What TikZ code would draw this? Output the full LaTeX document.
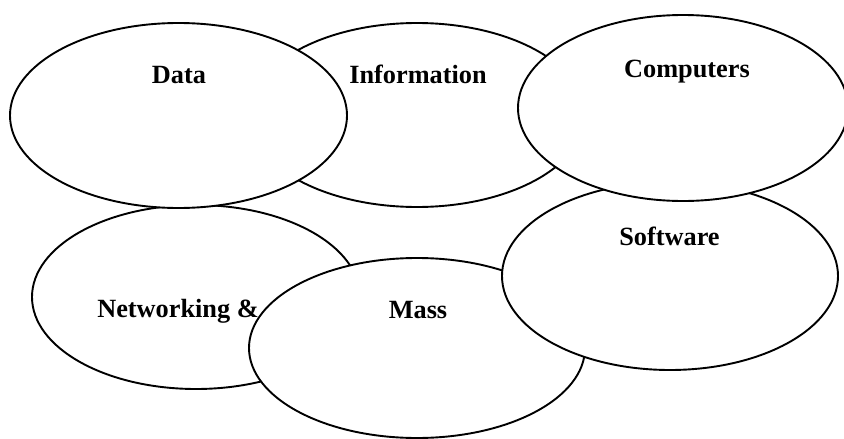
\documentclass[tikz,border=0pt]{standalone}
\usepackage{fontspec}
\setmainfont{Liberation Serif}
\usetikzlibrary{shapes.geometric}
\tikzset{
  blob/.style={ellipse, draw=black, fill=white, line width=1.9pt, inner sep=0pt, outer sep=0pt},
  lbl/.style={anchor=base, inner sep=0pt, font=\fontsize{26.3}{30}\selectfont\bfseries}
}
\begin{document}
\begin{tikzpicture}[x=1pt,y=-1pt]
\useasboundingbox (0,0) rectangle (844,439);
\clip (0,0) rectangle (844,439);
\node[blob, minimum width=336pt, minimum height=184pt] (info) at (417,115) {};
\node[lbl] (infot) at (418,83) {Information};
\node[blob, minimum width=328pt, minimum height=184pt] (net) at (196,297) {};
\node[lbl] (nett) at (178,317) {Networking \&};
\node[blob, minimum width=337pt, minimum height=185pt] (data) at (178.5,115.5) {};
\node[lbl] (datat) at (179,83) {Data};
\node[blob, minimum width=336pt, minimum height=180pt] (mass) at (417,348) {};
\node[lbl] (masst) at (418,318) {Mass};
\node[blob, minimum width=336pt, minimum height=188pt] (soft) at (670,276) {};
\node[lbl] (softt) at (669.5,245) {Software};
\node[blob, minimum width=330pt, minimum height=186pt] (comp) at (683,108) {};
\node[lbl] (compt) at (687,77) {Computers};
\end{tikzpicture}
\end{document}
